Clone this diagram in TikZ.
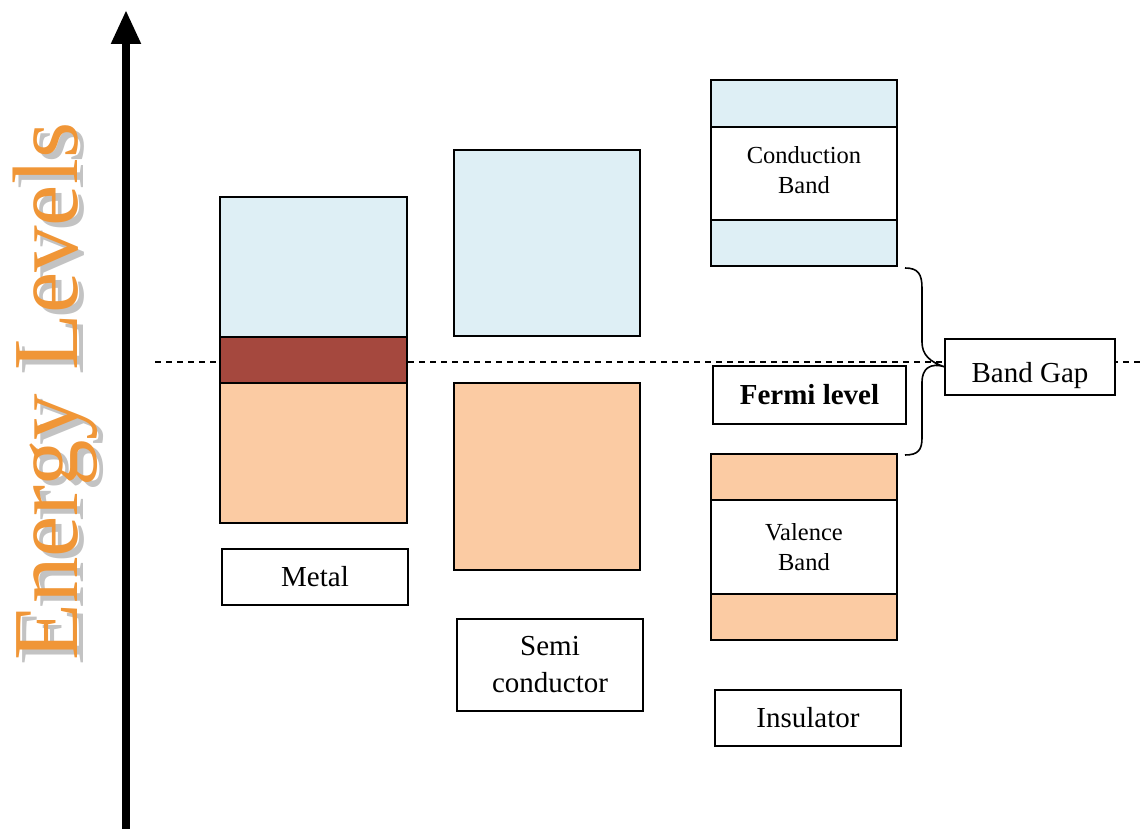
\documentclass[tikz,border=0pt]{standalone}
\usepackage{fontspec}
\setmainfont{Liberation Serif}
\usetikzlibrary{arrows.meta}
\definecolor{cband}{RGB}{222,239,245}
\definecolor{vband}{RGB}{251,203,163}
\definecolor{fband}{RGB}{165,72,62}
\definecolor{elorange}{RGB}{240,150,55}
\definecolor{elshadow}{RGB}{195,195,195}
\begin{document}
\begin{tikzpicture}[x=1pt,y=-1pt,
  box/.style={draw=black,line width=1.6pt,anchor=north west,inner sep=0pt,outer sep=0pt},
  lbl/.style={box,fill=white,font=\fontsize{29}{35}\selectfont,align=center},
  sml/.style={box,fill=white,font=\fontsize{24.5}{30}\selectfont,align=center},
  eltext/.style={rotate=90,anchor=base west,inner sep=0pt,font=\fontsize{93}{100}\selectfont},
]
\useasboundingbox (0,0) rectangle (1144,829);
% axis arrow
\coordinate (ab) at (126,829);
\coordinate (at) at (126,10);
\draw[line width=8pt,-{Triangle[length=34pt,width=28pt]}] (ab) -- (at);
% Energy Levels
\node[eltext,text=elshadow] (els) at (83,666) {Energy Levels};
\node[eltext,text=elorange] (el) at (77,661) {Energy Levels};
% Fermi dashed line
\coordinate (dl) at (155,362);
\coordinate (dr) at (1144,362);
\draw[line width=1.2pt,dash pattern=on 6pt off 5pt] (dl) -- (dr);
% Metal
\node[box,fill=cband,minimum width=187pt,minimum height=140pt] (mc) at (220,197) {};
\node[box,fill=vband,minimum width=187pt,minimum height=140pt] (mv) at (220,383) {};
\node[box,fill=fband,line width=2.6pt,minimum width=187pt,minimum height=46pt] (mf) at (220,337) {};
\node[lbl,minimum width=186pt,minimum height=56pt] (ml) at (222,549) {Metal};
% Semiconductor
\node[box,fill=cband,minimum width=186pt,minimum height=186pt] (sc) at (454,150) {};
\node[box,fill=vband,minimum width=186pt,minimum height=187pt] (sv) at (454,383) {};
\node[lbl,minimum width=186pt,minimum height=92pt] (sl) at (457,619) {Semi\\[2pt]conductor};
% Insulator
\node[box,fill=cband,minimum width=186pt,minimum height=186pt] (ic) at (711,80) {};
\node[sml,minimum width=186pt,minimum height=93pt] (icl) at (711,127) {\raisebox{3pt}[\height][0pt]{Conduction}\\\raisebox{3pt}{Band}};
\node[box,fill=vband,minimum width=186pt,minimum height=186pt] (iv) at (711,454) {};
\node[sml,minimum width=186pt,minimum height=94pt] (ivl) at (711,500) {Valence\\Band};
\node[lbl,minimum width=186pt,minimum height=56pt] (il) at (715,690) {Insulator};
% Fermi level label
\node[lbl,minimum width=193pt,minimum height=58pt,font=\fontsize{29}{33}\selectfont\bfseries] (fl) at (713,366) {Fermi level};
% Band gap
\node[lbl,minimum width=170pt,minimum height=56pt] (bg) at (945,339) {\raisebox{-5pt}[\height][0pt]{Band Gap}};
% brace
\coordinate (bt) at (905,268);
\coordinate (bb) at (905,455);
\draw[line width=1.6pt] (bt) .. controls (918,268) and (922,274) .. (922,288)
  -- (922,342) .. controls (922,355) and (930,362) .. (bg.west)
  .. controls (930,362) and (922,369) .. (922,382)
  -- (922,438) .. controls (922,450) and (918,455) .. (bb);
\end{tikzpicture}
\end{document}
